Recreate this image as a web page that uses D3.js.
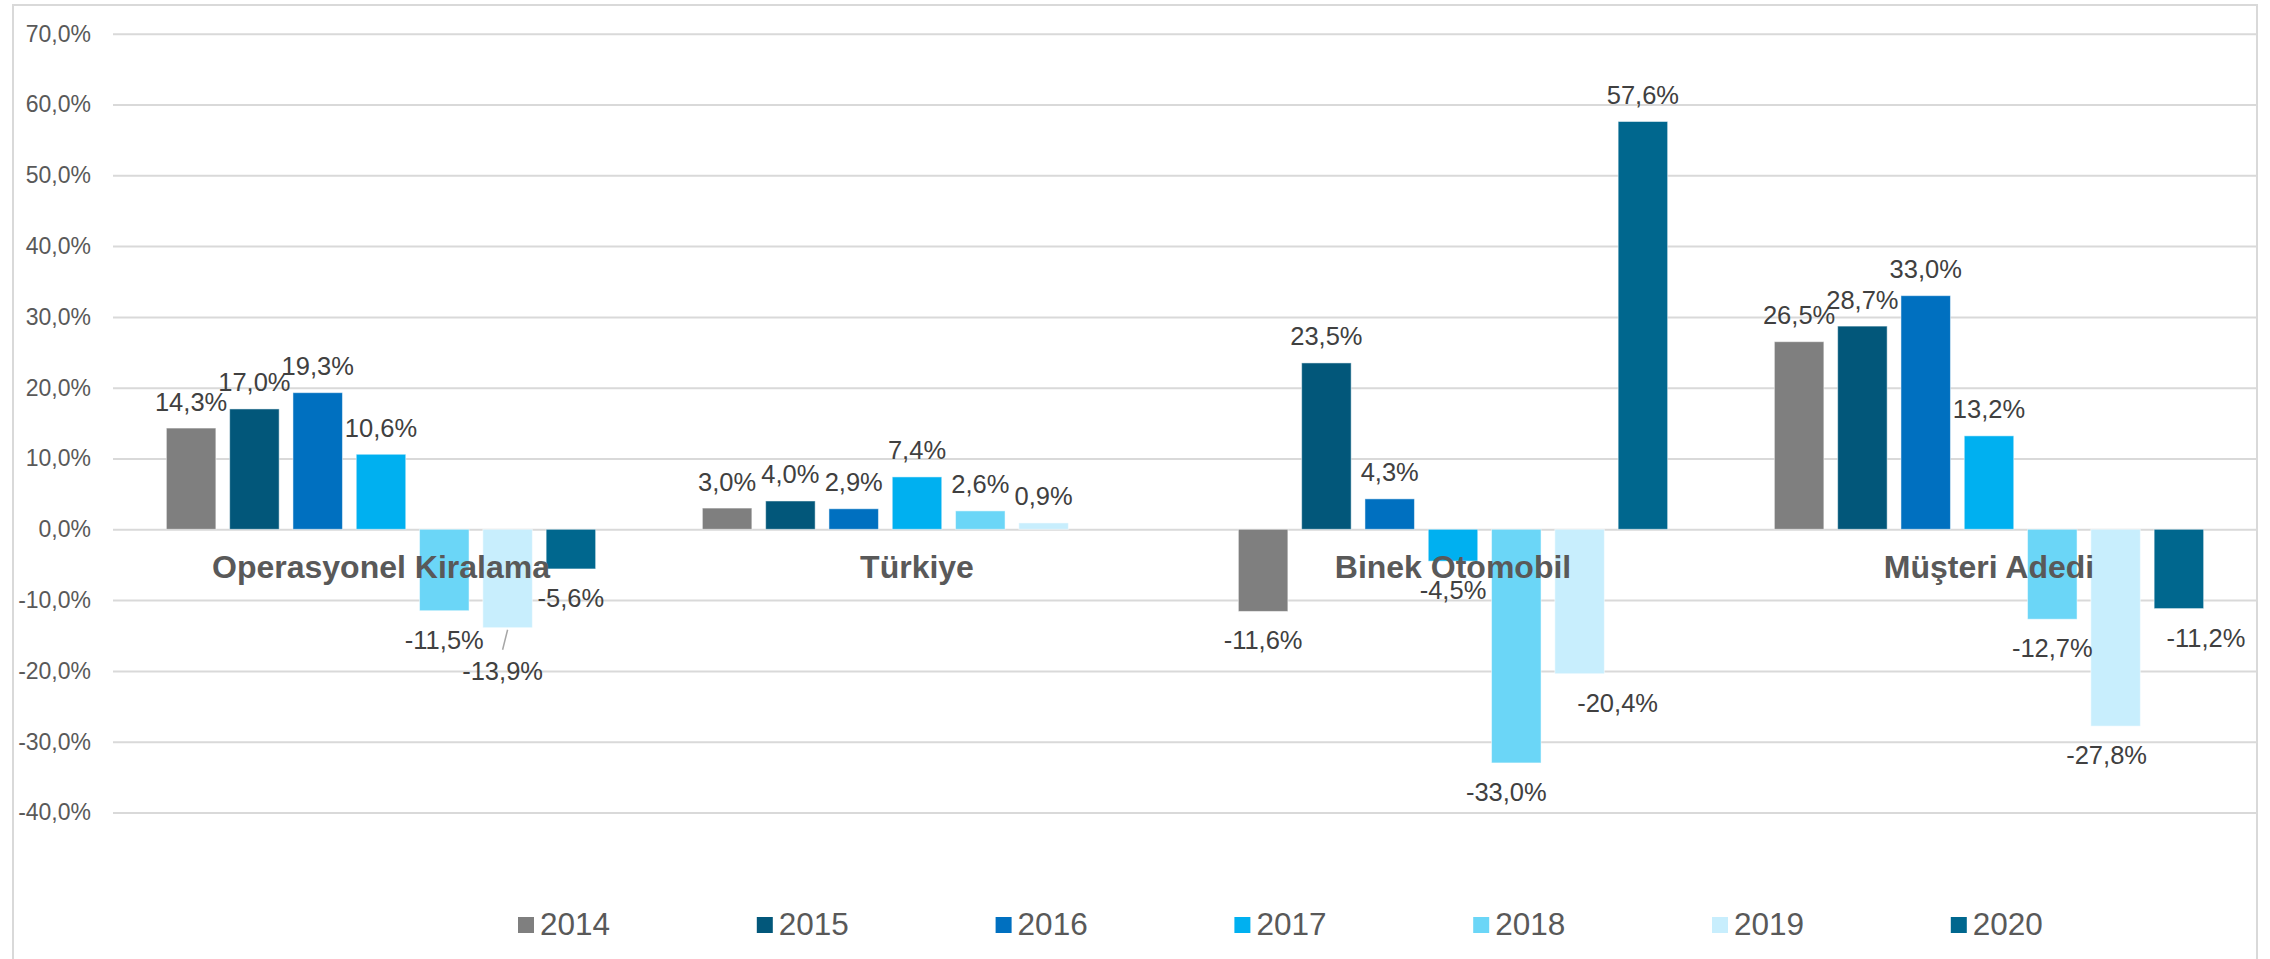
<!DOCTYPE html>
<html lang="tr">
<head>
    <meta charset="UTF-8">
    <title>Büyüme Oranları</title>
    <script src="https://d3js.org/d3.v7.min.js"></script>
    <style>
        body { margin: 0; background: #fff; }
        svg { display: block; }
    </style>
</head>
    <body>
        <script>
            // categories and series (values in %)
            const categories = ['Operasyonel Kiralama', 'Türkiye', 'Binek Otomobil', 'Müşteri Adedi']
            const years = ['2014', '2015', '2016', '2017', '2018', '2019', '2020']

            const v2014 = [14.3, 3.0, -11.6, 26.5]
            const v2015 = [17.0, 4.0, 23.5, 28.7]
            const v2016 = [19.3, 2.9, 4.3, 33.0]
            const v2017 = [10.6, 7.4, -4.5, 13.2]
            const v2018 = [-11.5, 2.6, -33.0, -12.7]
            const v2019 = [-13.9, 0.9, -20.4, -27.8]
            const v2020 = [-5.6, null, 57.6, -11.2]

            const yTicks = [70, 60, 50, 40, 30, 20, 10, 0, -10, -20, -30, -40]

            const colors = ['#7f7f7f', '#02577a', '#0070c0', '#00b0f0', '#6bd6f7', '#c8eefd', '#00678e']

            // a few data labels were moved by hand in the original
            const labelShift = {
                'Operasyonel Kiralama|2019': { dx: -5, dy: 14, leader: true },
                'Binek Otomobil|2018': { dx: -10, dy: 0 },
                'Binek Otomobil|2019': { dx: 38, dy: 0 },
                'Müşteri Adedi|2019': { dx: -9, dy: 0 },
                'Müşteri Adedi|2020': { dx: 27, dy: 0 }
            }

            const series = [v2014, v2015, v2016, v2017, v2018, v2019, v2020]

            const width = 2270
            const height = 959

            let margin = { top: 34, right: 13, bottom: 146, left: 113 }

            const locale = d3.formatLocale({ decimal: ',', thousands: '.', grouping: [3], currency: ['', ''], minus: '-' })
            const pct = locale.format('.1f')
            const fmt = v => pct(v) + '%'

            const x0 = d3.scaleBand()
                .domain(categories)
                .range([margin.left, width - margin.right])
                .padding(0)

            const x1 = d3.scaleBand()
                .domain(years)
                .range([0, x0.bandwidth()])
                .paddingInner(0.218)
                .paddingOuter(0.843)

            const y = d3.scaleLinear()
                .domain([-40, 70])
                .range([812.5, 33.7])

            const rows = []
            categories.forEach((c, i) => {
                years.forEach((yr, j) => {
                    const v = series[j][i]
                    if (v !== null) rows.push({ cat: c, year: yr, value: v, color: colors[j] })
                })
            })

            let svg = d3.select('body').append('svg').attr('width', width).attr('height', height)

            // chart border
            svg.append('rect')
                .attr('x', 13).attr('y', 5)
                .attr('width', 2244).attr('height', 970)
                .attr('fill', 'none')
                .attr('stroke', '#d9d9d9')
                .attr('stroke-width', 2)

            // gridlines
            svg.append('g')
                .attr('class', 'grid')
                .attr('transform', `translate(${margin.left},0)`)
                .call(d3.axisLeft(y).tickValues(yTicks).tickSize(-(width - margin.left - margin.right)).tickFormat(''))
                .call(g => g.select('.domain').remove())
                .call(g => g.selectAll('line').attr('stroke', '#d9d9d9').attr('stroke-width', 2))

            // y axis labels
            svg.append('g')
                .attr('class', 'y-axis')
                .attr('transform', `translate(${margin.left},0)`)
                .call(d3.axisLeft(y).tickValues(yTicks).tickSize(0).tickPadding(22).tickFormat(fmt))
                .call(g => g.select('.domain').remove())
                .call(g => g.selectAll('text')
                    .attr('fill', '#595959')
                    .style('font-family', '"Liberation Sans Narrow", "Liberation Sans", Arial, sans-serif')
                    .style('font-size', '23px'))

            // bars
            svg.append('g')
                .attr('class', 'bars')
                .selectAll('rect')
                .data(rows)
                .join('rect')
                .attr('x', d => x0(d.cat) + x1(d.year))
                .attr('y', d => y(Math.max(0, d.value)))
                .attr('width', x1.bandwidth())
                .attr('height', d => Math.abs(y(d.value) - y(0)))
                .attr('fill', d => d.color)
                .attr('stroke', '#ffffff')
                .attr('stroke-opacity', 0.5)
                .attr('stroke-width', 1)

            // category labels next to the zero line
            svg.append('g')
                .attr('class', 'cat-labels')
                .selectAll('text')
                .data(categories)
                .join('text')
                .attr('x', d => x0(d) + x0.bandwidth() / 2)
                .attr('y', y(0) + 49)
                .attr('text-anchor', 'middle')
                .attr('fill', '#595959')
                .style('font-family', '"Liberation Sans", Arial, sans-serif')
                .style('font-weight', 'bold')
                .style('font-size', '32px')
                .text(d => d)

            // leader lines for moved labels
            svg.append('g')
                .attr('class', 'leaders')
                .selectAll('line')
                .data(rows.filter(d => labelShift[d.cat + '|' + d.year] && labelShift[d.cat + '|' + d.year].leader))
                .join('line')
                .attr('x1', d => x0(d.cat) + x1(d.year) + x1.bandwidth() / 2)
                .attr('y1', d => y(d.value) + 2)
                .attr('x2', d => x0(d.cat) + x1(d.year) + x1.bandwidth() / 2 + labelShift[d.cat + '|' + d.year].dx)
                .attr('y2', d => y(d.value) + 2 + labelShift[d.cat + '|' + d.year].dy + 6)
                .attr('stroke', '#a6a6a6')
                .attr('stroke-width', 1.5)

            // data labels
            svg.append('g')
                .attr('class', 'labels')
                .selectAll('text')
                .data(rows)
                .join('text')
                .attr('x', d => {
                    const s = labelShift[d.cat + '|' + d.year]
                    return x0(d.cat) + x1(d.year) + x1.bandwidth() / 2 + (s ? s.dx : 0)
                })
                .attr('y', d => {
                    const s = labelShift[d.cat + '|' + d.year]
                    const base = d.value >= 0 ? y(d.value) - 17.5 : y(d.value) + 38
                    return base + (s ? s.dy : 0)
                })
                .attr('text-anchor', 'middle')
                .attr('fill', '#404040')
                .style('font-family', '"Liberation Sans", Arial, sans-serif')
                .style('font-size', '25.5px')
                .text(d => fmt(d.value))

            // legend
            const legend = svg.append('g')
                .attr('class', 'legend')
                .selectAll('g')
                .data(years)
                .join('g')
                .attr('transform', (d, i) => `translate(${518 + i * 238.8},0)`)

            legend.append('rect')
                .attr('x', 0).attr('y', 917)
                .attr('width', 16).attr('height', 16)
                .attr('fill', (d, i) => colors[i])

            legend.append('text')
                .attr('x', 22).attr('y', 935)
                .attr('fill', '#595959')
                .style('font-family', '"Liberation Sans", Arial, sans-serif')
                .style('font-size', '31.5px')
                .text(d => d)
        </script>
    </body>
</html>
